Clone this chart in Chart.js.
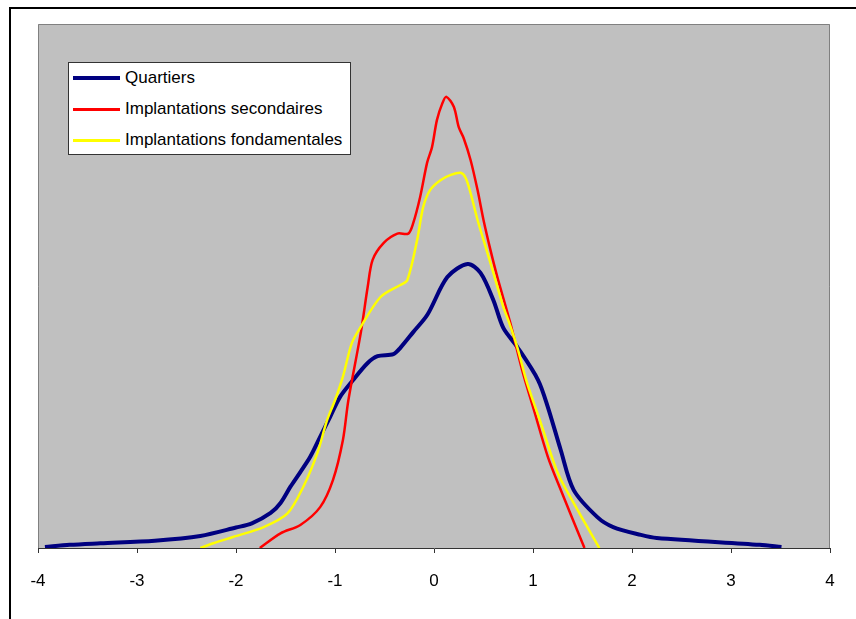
<!DOCTYPE html>
<html>
<head>
<meta charset="utf-8">
<script src="https://cdn.jsdelivr.net/npm/chart.js@4.4.1/dist/chart.umd.min.js"></script>
<style>
  html, body { margin: 0; padding: 0; background: #fff; }
  #wrap { position: relative; width: 856px; height: 619px; }
  #legend {
    position: absolute; left: 68px; top: 62px; width: 281px; height: 91px;
    background: #fff; border: 1px solid #333;
    font-family: 'Liberation Sans', Arial, sans-serif; font-size: 17px; color: #000;
  }
  #legend .row { position: absolute; left: 4px; height: 20px; line-height: 20px; white-space: nowrap; }
  #legend .swatch { position: absolute; left: 0; width: 47px; }
  #legend .txt { position: absolute; left: 52px; top: 0; }
</style>
</head>
<body>
<div id="wrap">
  <canvas id="densityChart" width="856" height="619"></canvas>
  <div id="legend"></div>
</div>
<script>
// Séries (x = valeur, y = densité relative)
const seriesNames = ['Quartiers', 'Implantations secondaires', 'Implantations fondamentales'];
const seriesColors = ['#000080', '#ff0000', '#ffff00'];
const seriesWidths = [4, 2.5, 2.5];

const quartiersX = [-3.93, -3.68, -3.37, -2.82, -2.36, -2.0, -1.84, -1.65, -1.55, -1.45, -1.35, -1.25, -1.15, -1.05, -0.95,
  -0.815, -0.67, -0.57, -0.41, -0.34, -0.21, -0.067, 0.135, 0.34, 0.47, 0.60, 0.70, 0.84, 1.05, 1.15, 1.28, 1.41, 1.65,
  1.81, 2.09, 2.25, 3.29, 3.51];
const quartiersY = [0.002, 0.006, 0.009, 0.014, 0.023, 0.039, 0.047, 0.067, 0.086, 0.117, 0.145, 0.174, 0.212, 0.25, 0.288,
  0.321, 0.353, 0.366, 0.370, 0.382, 0.412, 0.445, 0.517, 0.542, 0.525, 0.473, 0.42, 0.384, 0.321, 0.269, 0.187, 0.111, 0.059,
  0.040, 0.025, 0.019, 0.006, 0.002];

const secondairesX = [-1.76, -1.55, -1.35, -1.15, -1.02, -0.92, -0.865, -0.74, -0.67, -0.62, -0.51, -0.37, -0.26, -0.21,
  -0.14, -0.07, -0.02, 0.03, 0.085, 0.125, 0.20, 0.25, 0.30, 0.37, 0.44, 0.50, 0.57, 0.64, 0.77, 0.89, 1.01, 1.15, 1.28, 1.52];
const secondairesY = [0, 0.028, 0.044, 0.078, 0.13, 0.206, 0.282, 0.41, 0.498, 0.55, 0.582, 0.60, 0.60, 0.62,
  0.67, 0.735, 0.765, 0.817, 0.849, 0.861, 0.842, 0.803, 0.782, 0.74, 0.683, 0.626, 0.569, 0.517, 0.43, 0.34, 0.263, 0.174, 0.111, 0];

const fondamentalesX = [-2.36, -2.23, -2.03, -1.72, -1.48, -1.32, -1.18, -1.08, -1.0, -0.92, -0.83, -0.74, -0.54, -0.34,
  -0.27, -0.17, -0.11, -0.04, 0.065, 0.17, 0.27, 0.32, 0.37, 0.44, 0.50, 0.60, 0.70, 0.75, 0.84, 0.94, 1.08, 1.25, 1.41, 1.67];
const fondamentalesY = [0, 0.009, 0.021, 0.040, 0.066, 0.117, 0.18, 0.244, 0.282, 0.327, 0.391, 0.422, 0.479, 0.502,
  0.511, 0.588, 0.65, 0.683, 0.702, 0.712, 0.716, 0.706, 0.677, 0.626, 0.588, 0.525, 0.46, 0.435, 0.384, 0.315, 0.238, 0.143, 0.086, 0];

const xTicks = [-4, -3, -2, -1, 0, 1, 2, 3, 4];

function toPoints(xs, ys) {
  return xs.map((x, i) => ({ x: x, y: ys[i] }));
}

const allX = [quartiersX, secondairesX, fondamentalesX];
const allY = [quartiersY, secondairesY, fondamentalesY];

// Fond blanc, cadre noir et zone de tracé grise (style Excel)
const backgroundPlugin = {
  id: 'excelBackground',
  beforeDraw(chart) {
    const ctx = chart.ctx;
    const a = chart.chartArea;
    ctx.save();
    ctx.fillStyle = '#fff';
    ctx.fillRect(0, 0, chart.width, chart.height);
    ctx.strokeStyle = '#000';
    ctx.lineWidth = 2;
    ctx.strokeRect(10, 8, chart.width + 20, chart.height + 20);
    ctx.fillStyle = '#c0c0c0';
    ctx.fillRect(a.left, a.top, a.right - a.left, a.bottom - a.top);
    ctx.strokeStyle = '#808080';
    ctx.lineWidth = 1;
    ctx.beginPath();
    ctx.moveTo(a.left + 0.5, a.bottom);
    ctx.lineTo(a.left + 0.5, a.top + 0.5);
    ctx.lineTo(a.right - 0.5, a.top + 0.5);
    ctx.lineTo(a.right - 0.5, a.bottom);
    ctx.stroke();
    ctx.restore();
  }
};

const canvas = document.getElementById('densityChart');
const chart = new Chart(canvas.getContext('2d'), {
  type: 'line',
  data: {
    datasets: seriesNames.map((name, i) => ({
      label: name,
      data: toPoints(allX[i], allY[i]),
      borderColor: seriesColors[i],
      borderWidth: seriesWidths[i],
      pointRadius: 0,
      tension: 0.3,
      fill: false,
      order: 2 - i
    }))
  },
  options: {
    responsive: false,
    animation: false,
    devicePixelRatio: 1,
    layout: { padding: { left: 38, right: 26, top: 24, bottom: 0 } },
    plugins: {
      legend: { display: false },
      tooltip: { enabled: false }
    },
    scales: {
      x: {
        type: 'linear',
        min: -4,
        max: 4,
        afterBuildTicks(scale) {
          scale.ticks = xTicks.map(v => ({ value: v }));
        },
        afterFit(scale) {
          scale.height = 71;
        },
        grid: {
          drawOnChartArea: false,
          drawTicks: true,
          tickLength: 5,
          color: '#333'
        },
        border: { display: true, color: '#333', width: 1 },
        ticks: {
          padding: 18,
          maxRotation: 0,
          color: '#000',
          font: { family: "'Liberation Sans', Arial, sans-serif", size: 17 }
        }
      },
      y: {
        display: false,
        min: 0,
        max: 1
      }
    }
  },
  plugins: [backgroundPlugin]
});

// Légende HTML placée dans la zone de tracé
const legend = document.getElementById('legend');
seriesNames.forEach((name, i) => {
  const row = document.createElement('div');
  row.className = 'row';
  row.style.top = (5 + i * 31) + 'px';
  const sw = document.createElement('div');
  sw.className = 'swatch';
  sw.style.height = (i === 0 ? 4 : 3) + 'px';
  sw.style.top = (i === 0 ? 8 : 9) + 'px';
  sw.style.background = seriesColors[i];
  const txt = document.createElement('span');
  txt.className = 'txt';
  txt.textContent = name;
  row.appendChild(sw);
  row.appendChild(txt);
  legend.appendChild(row);
});
</script>
</body>
</html>
